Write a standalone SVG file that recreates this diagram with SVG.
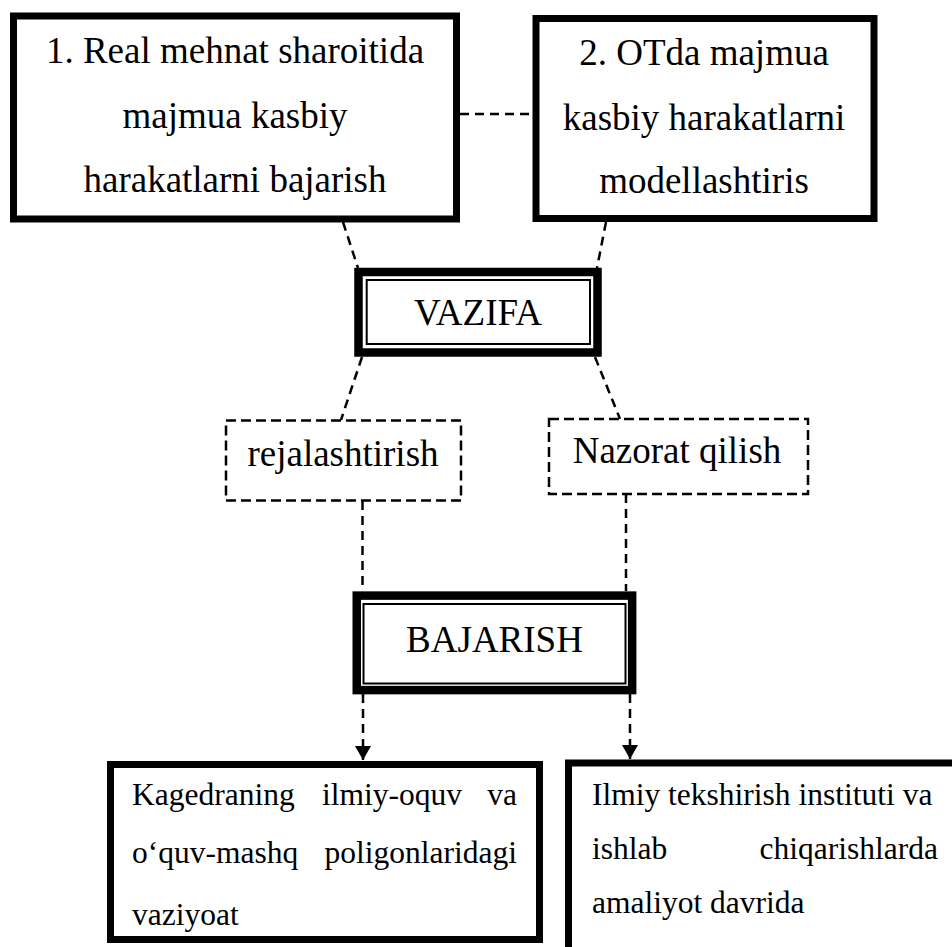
<svg xmlns="http://www.w3.org/2000/svg" width="952" height="947" viewBox="0 0 952 947">
  <style>
    .bg { fill: #ffffff; }
    .box { fill: #ffffff; stroke: #000; stroke-width: 7; }
    .thick { fill: #ffffff; stroke: #000; stroke-width: 8.5; }
    .thin { fill: none; stroke: #000; stroke-width: 2; }
    .dbox { fill: #ffffff; stroke: #000; stroke-width: 2.5; stroke-dasharray: 10 5; }
    .link { fill: none; stroke: #000; stroke-width: 2.5; stroke-dasharray: 9 6; }
    .big { font-family: "Liberation Serif", "Times New Roman", serif; font-size: 37px; fill: #000; }
    .small { font-family: "Liberation Serif", "Times New Roman", serif; font-size: 31.5px; fill: #000; }
    .mid { text-anchor: middle; }
    .end { text-anchor: end; }
  </style>
  <defs>
    <marker id="arrow" markerUnits="userSpaceOnUse" markerWidth="18" markerHeight="16" viewBox="0 0 14 16" refX="14" refY="8" orient="auto">
      <polygon points="0,0 14,8 0,16" fill="#000"/>
    </marker>
  </defs>

  <rect class="bg" x="0" y="0" width="952" height="947"/>

  <!-- connectors -->
  <g id="connectors">
    <line class="link" x1="460" y1="114" x2="533" y2="114"/>
    <line class="link" x1="343" y1="222" x2="358" y2="268"/>
    <line class="link" x1="606" y1="222" x2="597" y2="268"/>
    <line class="link" x1="362" y1="357" x2="341" y2="420"/>
    <line class="link" x1="595" y1="357" x2="620" y2="419"/>
    <line class="link" x1="362.5" y1="501" x2="362.5" y2="591"/>
    <line class="link" x1="626" y1="494" x2="626" y2="591"/>
    <line class="link" x1="363" y1="694" x2="363" y2="760" marker-end="url(#arrow)"/>
    <line class="link" x1="630" y1="694" x2="630" y2="759" marker-end="url(#arrow)"/>
  </g>

  <g id="node-real">
    <rect class="box" x="13.5" y="16" width="443" height="203"/>
    <text class="big mid" x="235" y="63">1. Real mehnat sharoitida</text>
    <text class="big mid" x="235" y="128">majmua kasbiy</text>
    <text class="big mid" x="235" y="192">harakatlarni bajarish</text>
  </g>

  <g id="node-ot">
    <rect class="box" x="536" y="18.5" width="338" height="200"/>
    <text class="big mid" x="704" y="65">2. OTda majmua</text>
    <text class="big mid" x="704" y="130">kasbiy harakatlarni</text>
    <text class="big mid" x="704" y="193">modellashtiris</text>
  </g>

  <g id="node-vazifa">
    <rect class="thick" x="358.5" y="272" width="239" height="80.5"/>
    <rect class="thin" x="366.7" y="280" width="223.3" height="64"/>
    <text class="big mid" x="478" y="325">VAZIFA</text>
  </g>

  <g id="node-rejalashtirish">
    <rect class="dbox" x="226" y="420.5" width="235" height="80"/>
    <text class="big mid" x="343" y="466">rejalashtirish</text>
  </g>

  <g id="node-nazorat">
    <rect class="dbox" x="549" y="419" width="259" height="75"/>
    <text class="big mid" x="677" y="463">Nazorat qilish</text>
  </g>

  <g id="node-bajarish">
    <rect class="thick" x="356.75" y="595.6" width="275.4" height="94.5"/>
    <rect class="thin" x="363.5" y="604" width="262" height="79.5"/>
    <text class="big mid" x="494.5" y="652">BAJARISH</text>
  </g>

  <g id="node-kafedra">
    <rect class="box" x="110.5" y="764.5" width="429" height="175"/>
    <text class="small" x="132" y="805">Kagedraning</text>
    <text class="small" x="322" y="805">ilmiy-oquv</text>
    <text class="small end" x="517" y="805">va</text>
    <text class="small" x="132" y="863">o‘quv-mashq</text>
    <text class="small end" x="517" y="863">poligonlaridagi</text>
    <text class="small" x="132" y="925">vaziyoat</text>
  </g>

  <g id="node-institut">
    <rect class="box" x="568.5" y="763" width="400" height="200"/>
    <text class="small" x="592" y="805">Ilmiy tekshirish instituti va</text>
    <text class="small" x="592" y="859">ishlab</text>
    <text class="small end" x="938" y="859">chiqarishlarda</text>
    <text class="small" x="592" y="913">amaliyot davrida</text>
  </g>
</svg>
